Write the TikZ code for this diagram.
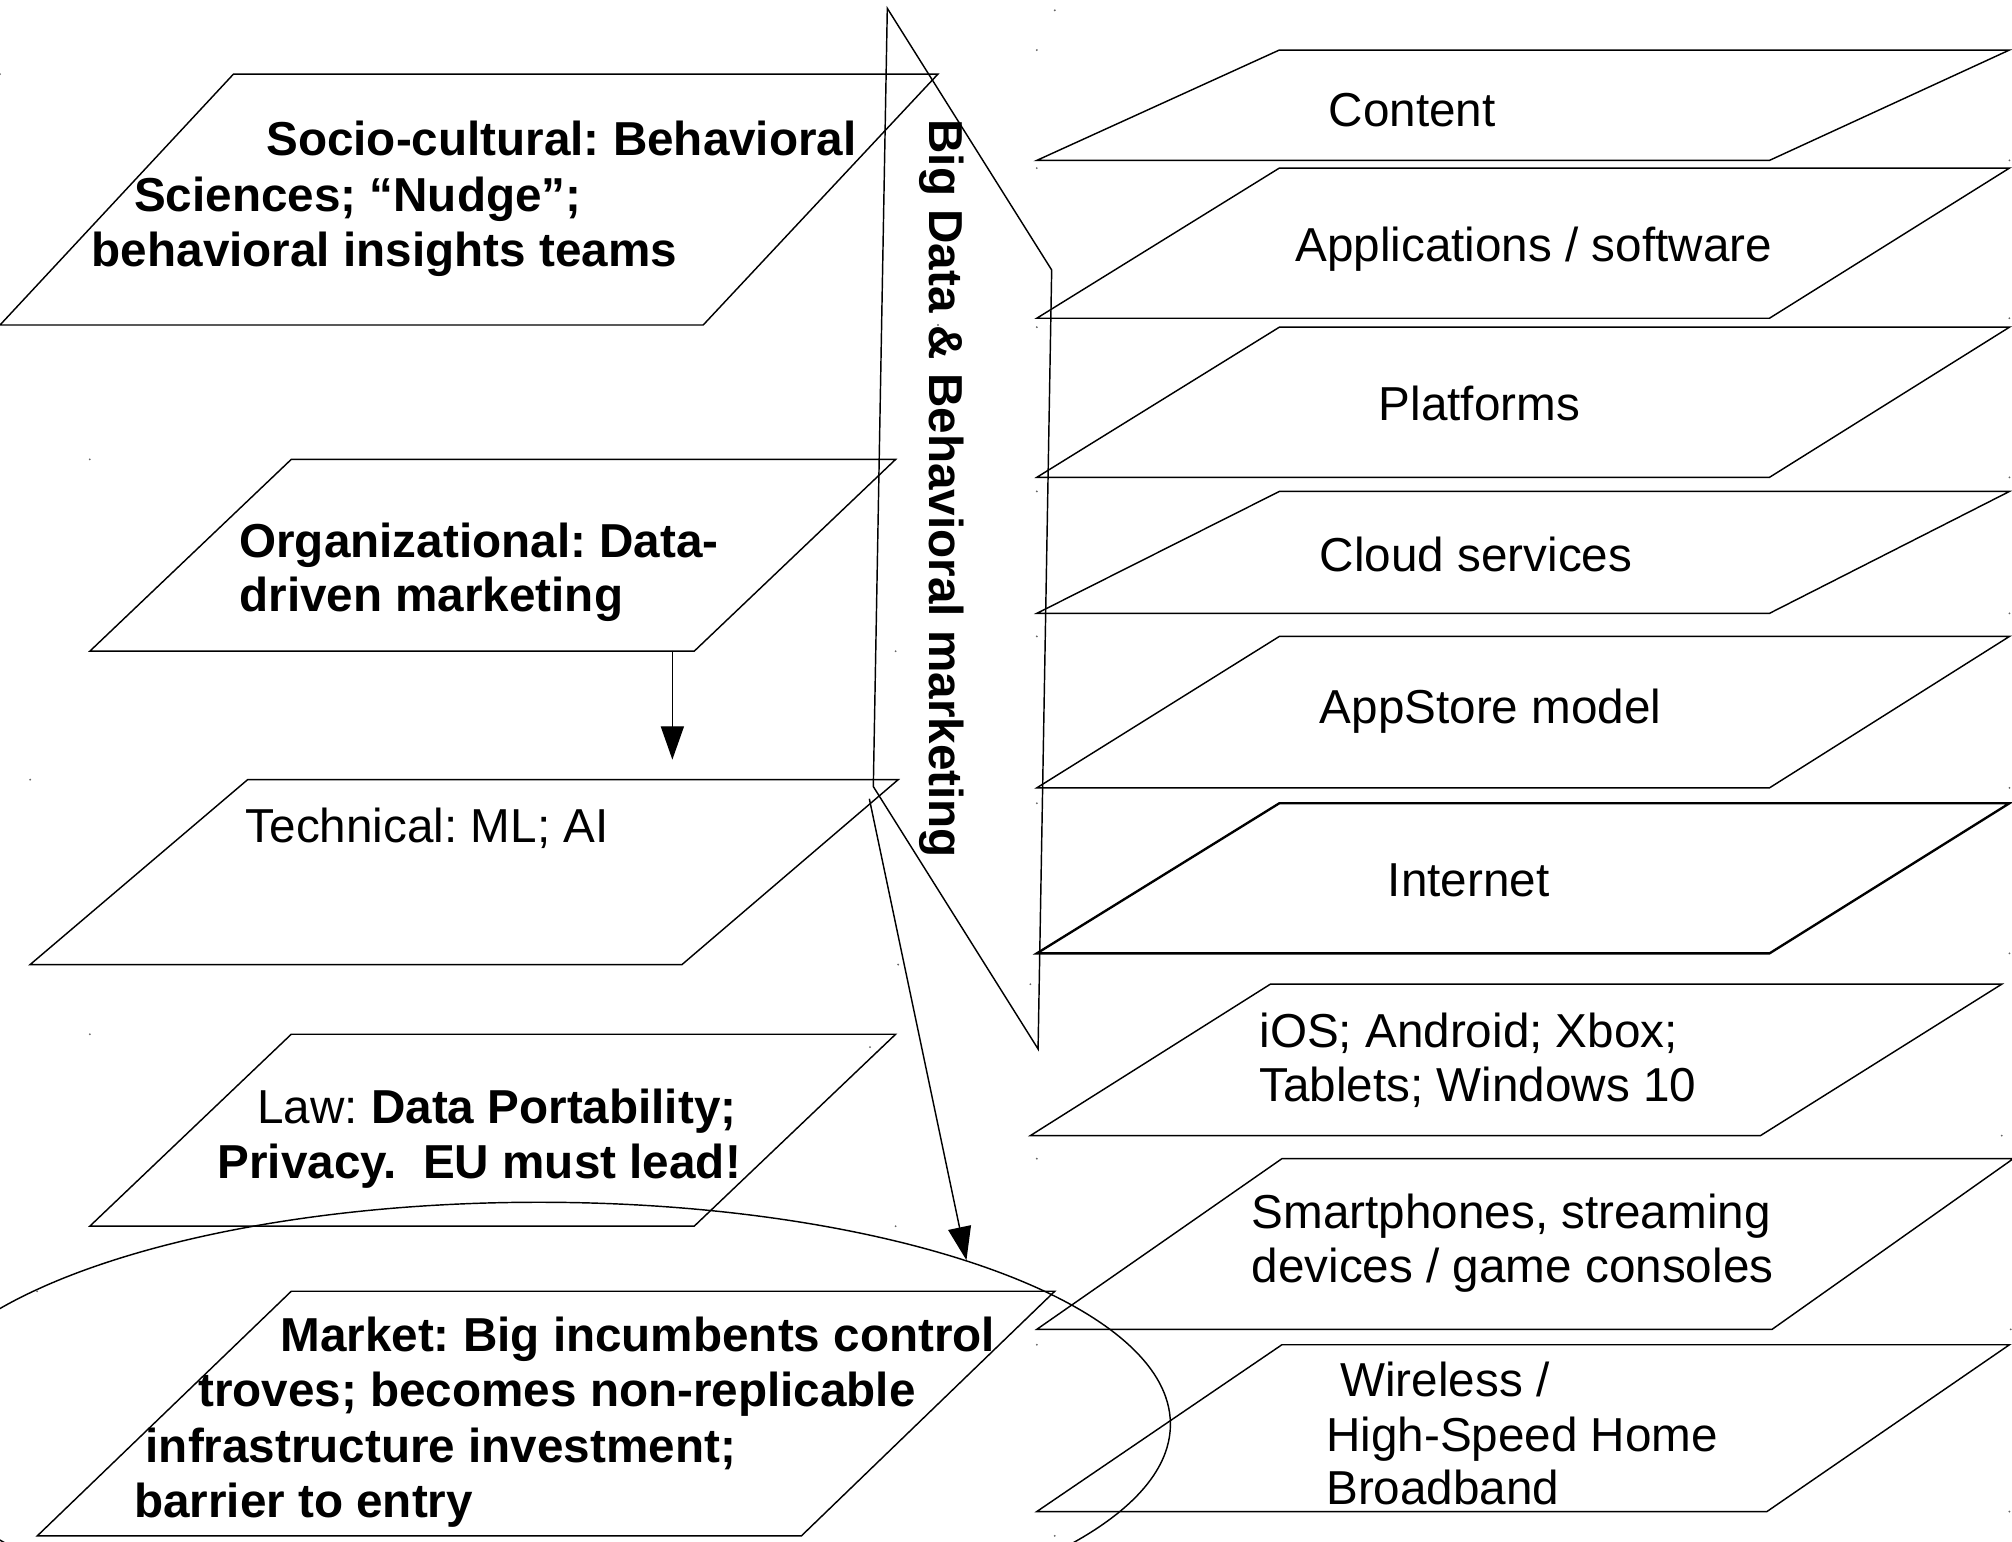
\documentclass[tikz,border=0pt]{standalone}
\usepackage{fontspec}
\setmainfont{Liberation Sans}
\usetikzlibrary{arrows.meta,shapes.geometric}
\frenchspacing
\begin{document}
\begin{tikzpicture}[x=0.0125cm, y=-0.0125cm,
  para/.style={draw, line width=0.4pt, line join=miter},
  thickpara/.style={draw, line width=0.65pt},
  lbl/.style={anchor=base west, inner sep=0pt, font=\fontsize{13.2pt}{15.2pt}\selectfont},
  blbl/.style={anchor=base west, inner sep=0pt, font=\fontsize{13.2pt}{15.2pt}\selectfont\bfseries},
  arr/.style={-{Triangle[length=0.325cm,width=0.225cm]}, line width=0.4pt},
  speck/.style={fill=black!60, draw=none}]
\useasboundingbox (0,0) rectangle (1568,1201.7);
\clip (0,0) rectangle (1568,1201.7);

% ---------- left column ----------
\draw[para] (182,57.7) -- (731,57.7) -- (548,253.3) -- (0,253.3) -- cycle;
\node[blbl] (soc1) at (207,121.5) {Socio-cultural: Behavioral};
\node[blbl] (soc2) at (104,164.5) {Sciences; “Nudge”;};
\node[blbl] (soc3) at (71,207.5) {behavioral insights teams};

\draw[para] (227,358) -- (698,358) -- (541,507.5) -- (70,507.5) -- cycle;
\node[blbl] (org1) at (186,434.5) {Organizational: Data-};
\node[blbl] (org2) at (186,476.5) {driven marketing};

\draw[para] (193,607.6) -- (700,607.6) -- (531.5,751.7) -- (23.5,751.7) -- cycle;
\node[lbl] (tech) at (191,656.5) {Technical: ML; AI};

\draw[para] (227,806) -- (698,806) -- (541,955.6) -- (70,955.6) -- cycle;
\node[lbl] (law1) at (200,875.5) {Law: \textbf{Data Portability;}};
\node[blbl] (law2) at (169,918.5) {Privacy.~ EU must lead!};

\draw[para] (227,1006.3) -- (822,1006.3) -- (624.5,1197) -- (29,1197) -- cycle;
\node[blbl] (mkt1) at (218,1053.5) {Market: Big incumbents control};
\node[blbl] (mkt2) at (154,1096.5) {troves; becomes non-replicable};
\node[blbl] (mkt3) at (113,1139.5) {infrastructure investment;};
\node[blbl] (mkt4) at (104,1182.5) {barrier to entry};

\node[draw, ellipse, line width=0.4pt, inner sep=0pt,
      minimum width=12.3cm, minimum height=4.325cm] (ell) at (420,1110) {};

% ---------- big data band ----------
\draw[para] (691.5,6.5) coordinate (bdTop) -- (819.6,210.4) coordinate (bdR)
  -- (809,817.5) coordinate (bdBot) -- (680.6,613) coordinate (bdL) -- cycle;
\node[blbl, rotate=-90] (bdtext) at (724.7,92.5) {Big Data \& Behavioral marketing};

% ---------- right column ----------
\draw[para] (997,39) -- (1566,39) -- (1379,125) -- (808,125) -- cycle;
\node[lbl] (content) at (1035,98.5) {Content};
\draw[para] (997,131) -- (1566,131) -- (1379,248) -- (808,248) -- cycle;
\node[lbl] (apps) at (1009,203.5) {Applications / software};
\draw[para] (997,255) -- (1566,255) -- (1379,372) -- (808,372) -- cycle;
\node[lbl] (plat) at (1074,327.5) {Platforms};
\draw[para] (997,383) -- (1566,383) -- (1379,478) -- (808,478) -- cycle;
\node[lbl] (cloud) at (1028,445.5) {Cloud services};
\draw[para] (997,496) -- (1566,496) -- (1379,614) -- (808,614) -- cycle;
\node[lbl] (appstore) at (1028,563.5) {AppStore model};
\draw[thickpara] (997,626) -- (1566,626) -- (1379,743) -- (808,743) -- cycle;
\node[lbl] (internet) at (1081,698.5) {Internet};
\draw[para] (990,767) -- (1560,767) -- (1372,885) -- (803,885) -- cycle;
\node[lbl] (ios1) at (981,816.5) {iOS; Android; Xbox;};
\node[lbl] (ios2) at (981,858.5) {Tablets; Windows 10};
\draw[para] (999,903) -- (1569,903) -- (1381,1036) -- (808,1036) -- cycle;
\node[lbl] (sm1) at (975,957.5) {Smartphones, streaming};
\node[lbl] (sm2) at (975,999.5) {devices / game consoles};
\draw[para] (999,1048) -- (1566,1048) -- (1377,1178) -- (808,1178) -- cycle;
\node[lbl] (wl1) at (1044,1088.5) {Wireless /};
\node[lbl] (wl2) at (1033,1131.5) {High-Speed Home};
\node[lbl] (wl3) at (1033,1172.5) {Broadband};

% ---------- connectors ----------
\coordinate (orgOut) at (524,507.5);
\coordinate (techIn) at (524,592);
\draw[arr] (orgOut) -- (techIn);
\coordinate (bdOut) at (677.5,622.5);
\draw[arr] (bdOut) -- (ell.21.55);

% ---------- small anchor specks ----------
\foreach \p in {(0,57.7),(731,253.3),(70,358),(698,507.5),(23.5,607.6),(700,751.7),
  (70,806),(698,955.6),(29,1006.3),(822,1197),(822,8),(678,816),
  (808,39),(1566,125),(808,131),(1566,248),(808,255),(1566,372),(808,383),(1566,478),
  (808,496),(1566,614),(808,626),(1566,743),(803,767),(1560,885),(808,903),(1567,1036),
  (808,1048),(1566,1178)}
  \fill[speck] \p circle (0.8);
\end{tikzpicture}
\end{document}
